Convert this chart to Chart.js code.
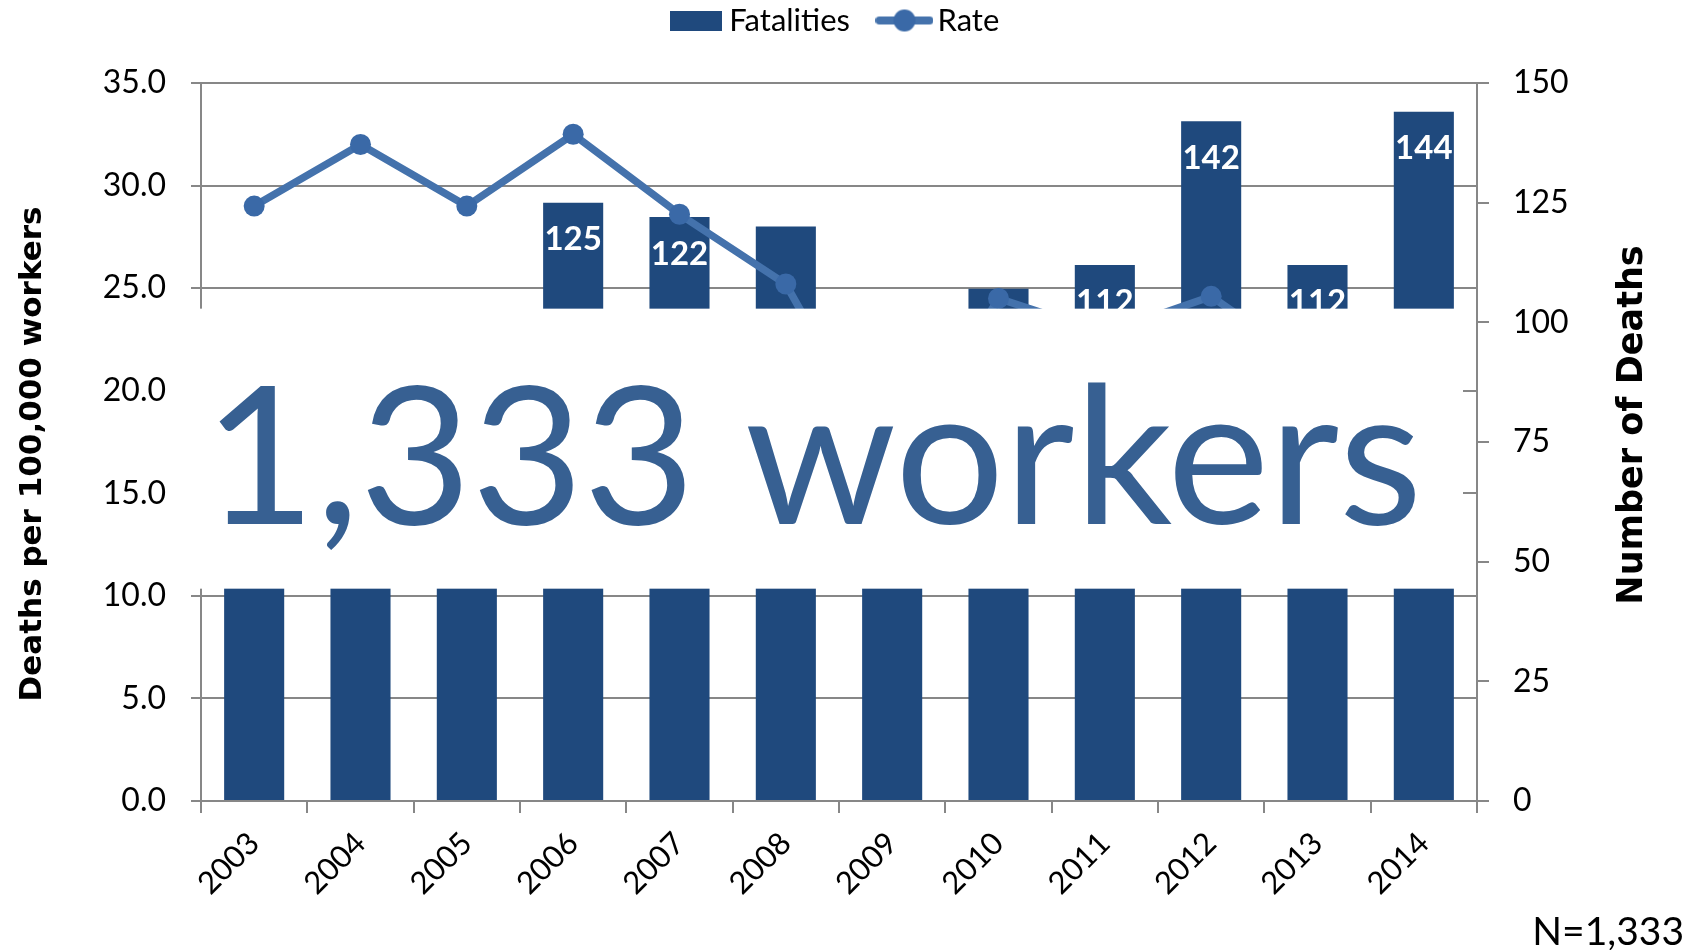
<!DOCTYPE html>
<html lang="en">
<head>
<meta charset="UTF-8">
<title>Fatalities and Rate, 2003-2014</title>
<script src="https://cdn.jsdelivr.net/npm/chart.js@4.4.0/dist/chart.umd.min.js"></script>
<style>
  html, body { margin: 0; padding: 0; background: #fff; }
</style>
</head>
<body>
<canvas id="chart" width="1701" height="950"></canvas>
<script>
// Data
const years = ['2003', '2004', '2005', '2006', '2007', '2008', '2009', '2010', '2011', '2012', '2013', '2014'];
const fatalities = [88, 92, 87, 125, 122, 120, 82, 107, 112, 142, 112, 144];
const rate = [29.0, 32.0, 29.0, 32.5, 28.6, 25.2, 16.0, 24.5, 22.8, 24.6, 21.0, 22.6];
const rateAxis = [0, 35, 5];     // min, max, step
const deathAxis = [0, 150, 25];
const unlabeledYears = ['2008'];
const bigNote = '1,333 workers';
const nNote = 'N=1,333';
const leftTitle = 'Deaths per 100,000 workers';
const rightTitle = 'Number of Deaths';

// Colours
const barColor = '#1F497D';
const lineColor = '#4472AC';
const markerColor = '#3A69A7';
const gridColor = '#878787';
const noteColor = '#376092';

// legend icons (drawn wider than the legend box so the text sits close)
function legendIcon(kind) {
    const c = document.createElement('canvas');
    const g = c.getContext('2d');
    if (kind === 'bar') {
        c.width = 52; c.height = 20;
        g.fillStyle = barColor;
        g.fillRect(0, 0, 52, 20);
    } else {
        c.width = 58; c.height = 24;
        g.strokeStyle = lineColor;
        g.lineWidth = 8;
        g.lineCap = 'round';
        g.beginPath();
        g.moveTo(4, 12);
        g.lineTo(54, 12);
        g.stroke();
        g.fillStyle = markerColor;
        g.beginPath();
        g.arc(29, 12, 11, 0, Math.PI * 2);
        g.fill();
    }
    return c;
}
const icons = [legendIcon('bar'), legendIcon('line')];

// give the legend the same height as in the picture
const legendSpace = {
    id: 'legendSpace',
    beforeInit(chart) {
        const fit = chart.legend.fit;
        chart.legend.fit = function () {
            fit.bind(chart.legend)();
            this.height = 115;
        };
    }
};

// value labels inside the bars
const barLabels = {
    id: 'barLabels',
    afterDatasetsDraw(chart) {
        const ctx = chart.ctx;
        const meta = chart.getDatasetMeta(0);
        ctx.save();
        ctx.font = 'bold 33px Lato';
        ctx.fillStyle = '#fff';
        ctx.textAlign = 'center';
        ctx.textBaseline = 'middle';
        meta.data.forEach((bar, i) => {
            if (unlabeledYears.includes(years[i])) return;
            ctx.fillText(String(fatalities[i]), bar.x, bar.y + 37);
        });
        ctx.restore();
    }
};

// white box with the big total over the middle of the chart
const coverNote = {
    id: 'coverNote',
    afterDatasetsDraw(chart) {
        const {ctx, chartArea, scales} = chart;
        const top = scales.y.getPixelForValue(24);
        const bottom = scales.y.getPixelForValue(10.35);
        const left = chartArea.left - 21;
        const right = chartArea.right - 14;
        ctx.save();
        ctx.fillStyle = '#fff';
        ctx.fillRect(left, top, right - left, bottom - top);
        ctx.fillStyle = noteColor;
        ctx.font = '193px Lato';
        ctx.textAlign = 'center';
        ctx.textBaseline = 'alphabetic';
        ctx.fillText(bigNote, (chartArea.left + chartArea.right) / 2 - 26, scales.y.getPixelForValue(13.5));
        ctx.restore();
    },
    afterDraw(chart) {
        const {ctx, chartArea} = chart;
        const midY = (chartArea.top + chartArea.bottom) / 2;
        ctx.save();
        ctx.fillStyle = '#000';
        ctx.font = '39px Lato';
        ctx.textAlign = 'right';
        ctx.textBaseline = 'alphabetic';
        ctx.fillText(nNote, chart.width - 17, chart.height - 5);

        // axis titles, both read bottom to top
        ctx.textAlign = 'center';
        ctx.textBaseline = 'middle';
        ctx.save();
        ctx.translate(33, midY + 12);
        ctx.rotate(-Math.PI / 2);
        ctx.font = 'bold 31px "DejaVu Sans"';
        ctx.fillText(leftTitle, 0, 0);
        ctx.restore();

        ctx.translate(chart.width - 68, midY - 17);
        ctx.rotate(-Math.PI / 2);
        ctx.font = 'bold 35px "DejaVu Sans"';
        ctx.fillText(rightTitle, 0, 0);
        ctx.restore();
    }
};

const tickFont = { family: 'Lato', size: 32 };

new Chart(document.getElementById('chart').getContext('2d'), {
    data: {
        labels: years,
        datasets: [{
            type: 'bar',
            label: 'Fatalities',
            data: fatalities,
            yAxisID: 'y1',
            backgroundColor: barColor,
            barPercentage: 0.565,
            categoryPercentage: 1,
            order: 2
        }, {
            type: 'line',
            label: 'Rate',
            data: rate,
            yAxisID: 'y',
            borderColor: lineColor,
            borderWidth: 7.5,
            pointRadius: 10.5,
            pointBackgroundColor: markerColor,
            pointBorderWidth: 0,
            tension: 0,
            order: 1
        }]
    },
    options: {
        responsive: false,
        animation: false,
        layout: { padding: { top: -32, left: 0, right: 0, bottom: 0 } },
        plugins: {
            tooltip: { enabled: false },
            legend: {
                position: 'top',
                fullSize: false,
                labels: {
                    usePointStyle: true,
                    pointStyleWidth: 35,
                    padding: 37,
                    color: '#000',
                    font: { family: 'Lato', size: 31 },
                    sort: (a, b) => a.datasetIndex - b.datasetIndex,
                    generateLabels(chart) {
                        const items = Chart.defaults.plugins.legend.labels.generateLabels(chart);
                        items.forEach(it => { it.pointStyle = icons[it.datasetIndex]; });
                        return items;
                    }
                }
            }
        },
        scales: {
            x: {
                grid: { drawOnChartArea: false, offset: true, color: gridColor, lineWidth: 2, tickLength: 12 },
                border: { color: gridColor, width: 2 },
                ticks: { maxRotation: 45, minRotation: 45, color: '#000', font: { family: 'Lato', size: 31 }, padding: 12 },
                afterFit(scale) { scale.height = 149; }
            },
            y: {
                position: 'left',
                min: rateAxis[0],
                max: rateAxis[1],
                ticks: { stepSize: rateAxis[2], color: '#000', font: tickFont, padding: 25,
                    callback: v => v.toFixed(1) },
                grid: { color: gridColor, lineWidth: 2, tickLength: 10 },
                border: { color: gridColor, width: 2 },
                afterFit(scale) { scale.width = 201; }
            },
            y1: {
                position: 'right',
                min: deathAxis[0],
                max: deathAxis[1],
                ticks: { stepSize: deathAxis[2], color: '#000', font: tickFont, padding: 24 },
                grid: { drawOnChartArea: false, color: gridColor, lineWidth: 2, tickLength: 12 },
                border: { color: gridColor, width: 2 },
                afterFit(scale) { scale.width = 224; }
            }
        }
    },
    plugins: [legendSpace, barLabels, coverNote]
});
</script>
</body>
</html>
